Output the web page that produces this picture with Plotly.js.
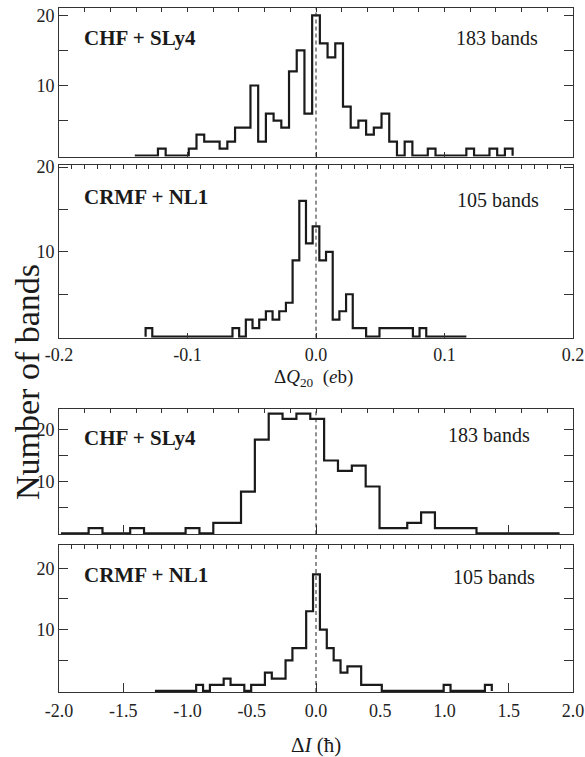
<!DOCTYPE html>
<html><head><meta charset="utf-8">
<script src="https://cdn.plot.ly/plotly-3.0.1.min.js"></script>
<style>html,body{margin:0;padding:0;background:#fff;}</style>
</head><body><div id="chart" style="width:585px;height:757px;"></div>
<script>
// ---- DATA ----
// Panel 1: CHF + SLy4, Delta Q20 (eb)
const q20ChfStart = -0.141;
const q20ChfWidth = 0.006;
const q20ChfCounts = [0,0,0,1,0,0,0,1,3,2,2,1,2,4,4,10,2,6,5,4,12,15,6,
                      20,16,14,16,7,4,5,3,4,6,2,0,2,0,0,1,0,0,0,0,1,0,0,1,0,1];
// Panel 2: CRMF + NL1, Delta Q20 (eb)
const q20CrmfStart = -0.1326;
const q20CrmfWidth = 0.0052;
const q20CrmfCounts = [1,0,0,0,0,0,0,0,0,0,0,0,0,1,0,2,1,2,3,2,3,4,9,16,11,
                       13,9,10,2,3,5,1,1,0,0,1,1,1,1,1,0,1,0,0,0,0,0,0];
// Panel 3: CHF + SLy4, Delta I (hbar)
const dIChfStart = -1.985;
const dIChfWidth = 0.1078;
const dIChfCounts = [0,0,1,0,0,1,0,0,0,1,0,2,2,8,18,23,22,23,22,14,12,13,9,1,1,2,4,1,1,1,0,0,0,0,0,0];
// Panel 4: CRMF + NL1, Delta I (hbar)
const dICrmfStart = -1.2535;
const dICrmfWidth = 0.0535;
const dICrmfCounts = [0,0,0,0,0,0,1,0,1,1,2,1,1,0,1,1,3,2,2,5,7,7,13,
                      19,10,7,5,3,4,4,1,1,1,0,0,0,0,0,0,0,0,0,1,0,0,0,0,0,1];

const panelLabels = ["CHF + SLy4", "CRMF + NL1", "CHF + SLy4", "CRMF + NL1"];
const bandLabels = ["183 bands", "105 bands", "183 bands", "105 bands"];
const yTickVals = [10, 20];
const yTickText = ["10", "20"];
const yMinorTicks = [5, 15];
const q20TickVals = [-0.2, -0.1, 0.0, 0.1, 0.2];
const q20TickText = ["-0.2", "-0.1", "0.0", "0.1", "0.2"];
const dITickVals = [-2.0, -1.5, -1.0, -0.5, 0.0, 0.5, 1.0, 1.5, 2.0];
const dITickText = ["-2.0", "-1.5", "-1.0", "-0.5", "0.0", "0.5", "1.0", "1.5", "2.0"];
const dIMajorTicks = [-1.5, 0.0, 1.5];
const refLineX = 0;

// ---- BUILD ----
function stepXY(start, width, counts) {
  const xs = [start], ys = [0];
  counts.forEach((c, i) => { xs.push(start + i * width); ys.push(c); });
  xs.push(start + counts.length * width); ys.push(0);
  return {xs, ys};
}

const series = [
  [q20ChfStart, q20ChfWidth, q20ChfCounts],
  [q20CrmfStart, q20CrmfWidth, q20CrmfCounts],
  [dIChfStart, dIChfWidth, dIChfCounts],
  [dICrmfStart, dICrmfWidth, dICrmfCounts]
];

const W = 585, H = 757;
const xDom = [59 / W, 573 / W];
const panels = [
  {yTop: 8.3,   yBot: 156.5, yr: [-0.12, 21.0],  xr: [-0.2, 0.2], topDtick: 0.02, botTicks: q20TickVals, botLen: 5, labels: false, labelY: 37.7, bandX: 456, bandY: 38.3},
  {yTop: 164.5, yBot: 337.7, yr: [-0.12, 20.3],  xr: [-0.2, 0.2], topDtick: 0.01, botTicks: q20TickVals, botLen: 5, labels: true,  labelY: 196.7, bandX: 456.7, bandY: 200},
  {yTop: 409.3, yBot: 534.3, yr: [-0.2, 23.85],  xr: [-2, 2],     topDtick: 0.2,  botTicks: dIMajorTicks, botLen: 9, labels: false, labelY: 438.3, bandX: 448, bandY: 435},
  {yTop: 545,   yBot: 692,   yr: [-0.17, 23.8],  xr: [-2, 2],     topDtick: 0.1,  botTicks: dIMajorTicks, botLen: 9, labels: false, labelY: 575, bandX: 452.7, bandY: 576.7}
];

const FAM = "Liberation Serif";
const tickFont = {family: FAM, size: 18, color: "#222"};
const lineCol = "#333";
const layout = {
  width: W, height: H,
  margin: {l: 0, r: 0, t: 0, b: 0},
  paper_bgcolor: "#fff", plot_bgcolor: "#fff",
  showlegend: false,
  font: {family: FAM},
  shapes: [], annotations: []
};
const traces = [];

panels.forEach((p, idx) => {
  const n = idx + 1;
  const xk = n === 1 ? "xaxis" : "xaxis" + n;
  const yk = n === 1 ? "yaxis" : "yaxis" + n;
  const xid = n === 1 ? "x" : "x" + n;
  const yid = n === 1 ? "y" : "y" + n;
  const yDom = [1 - p.yBot / H, 1 - p.yTop / H];

  const xa = {
    domain: xDom, range: p.xr, anchor: yid,
    showline: true, mirror: true, linecolor: lineCol, linewidth: 1,
    ticks: "inside", tickmode: "array", tickvals: p.botTicks, ticklen: p.botLen, tickcolor: lineCol,
    showticklabels: p.labels, tickfont: tickFont, ticklabelstandoff: 1,
    zeroline: false, showgrid: false, fixedrange: true
  };
  if (p.labels) xa.ticktext = q20TickText;
  layout[xk] = xa;
  layout[yk] = {
    domain: yDom, range: p.yr, anchor: xid,
    showline: true, mirror: "ticks", linecolor: lineCol, linewidth: 1,
    ticks: "inside", ticklen: 9, tickcolor: lineCol,
    tickmode: "array", tickvals: yTickVals, ticktext: yTickText,
    minor: {tickmode: "array", tickvals: yMinorTicks, ticks: "inside", ticklen: 9, tickcolor: lineCol, showgrid: false},
    tickfont: tickFont, zeroline: false, showgrid: false, fixedrange: true
  };
  // top small ticks (overlay axis)
  const tn = n + 4;
  layout["xaxis" + tn] = {
    overlaying: xid, anchor: yid, side: "top", range: p.xr,
    ticks: "inside", tick0: 0, dtick: p.topDtick, ticklen: 4, tickcolor: lineCol,
    showticklabels: false, showline: false, showgrid: false, zeroline: false, fixedrange: true
  };
  traces.push({type: "scatter", x: [], y: [], xaxis: "x" + tn, yaxis: yid, hoverinfo: "skip"});

  const s = series[idx];
  const st = stepXY(s[0], s[1], s[2]);
  traces.push({
    type: "scatter", mode: "lines", x: st.xs, y: st.ys, xaxis: xid, yaxis: yid,
    line: {shape: "hv", color: "#1a1a1a", width: 2.2}, hoverinfo: "skip"
  });

  layout.shapes.push({
    type: "line", xref: xid, yref: yid + " domain", x0: refLineX, x1: refLineX, y0: 0, y1: 1,
    line: {color: "#222", width: 1, dash: "4px,3px"}
  });

  layout.annotations.push({
    xref: "paper", yref: "paper", x: 82 / W, y: 1 - p.labelY / H, xanchor: "left", yanchor: "middle",
    text: "<b>" + panelLabels[idx] + "</b>", showarrow: false,
    font: {family: FAM, size: 21, color: "#1a1a1a"}
  });
  layout.annotations.push({
    xref: "paper", yref: "paper", x: (p.bandX - 2) / W, y: 1 - p.bandY / H, xanchor: "left", yanchor: "middle",
    text: bandLabels[idx], showarrow: false,
    font: {family: FAM, size: 20, color: "#1a1a1a"}
  });
});

// labels for bottom delta-I axis (overlay with no tick marks)
layout.xaxis9 = {
  overlaying: "x4", anchor: "y4", side: "bottom", range: [-2, 2],
  ticks: "", tickmode: "array", tickvals: dITickVals, ticktext: dITickText,
  tickfont: tickFont, ticklabelstandoff: 6,
  showline: false, showgrid: false, zeroline: false, fixedrange: true
};
traces.push({type: "scatter", x: [], y: [], xaxis: "x9", yaxis: "y4", hoverinfo: "skip"});

// axis titles
layout.annotations.push({
  xref: "paper", yref: "paper", x: 313 / W, y: 1 - 378 / H, xanchor: "center", yanchor: "middle",
  text: "Δ<i>Q</i><sub>20</sub>  (<i>e</i>b)", showarrow: false,
  font: {family: FAM, size: 19, color: "#1a1a1a"}
});
layout.annotations.push({
  xref: "paper", yref: "paper", x: 316 / W, y: 1 - 745 / H, xanchor: "center", yanchor: "middle",
  text: "Δ<i>I</i> (ħ)", showarrow: false,
  font: {family: FAM, size: 21, color: "#1a1a1a"}
});
layout.annotations.push({
  xref: "paper", yref: "paper", x: 27 / W, y: 1 - 382 / H, xanchor: "center", yanchor: "middle",
  text: "Number of bands", textangle: -90, showarrow: false,
  font: {family: FAM, size: 34, color: "#1a1a1a"}
});

Plotly.newPlot("chart", traces, layout, {staticPlot: true, displayModeBar: false});
</script>
</body></html>
